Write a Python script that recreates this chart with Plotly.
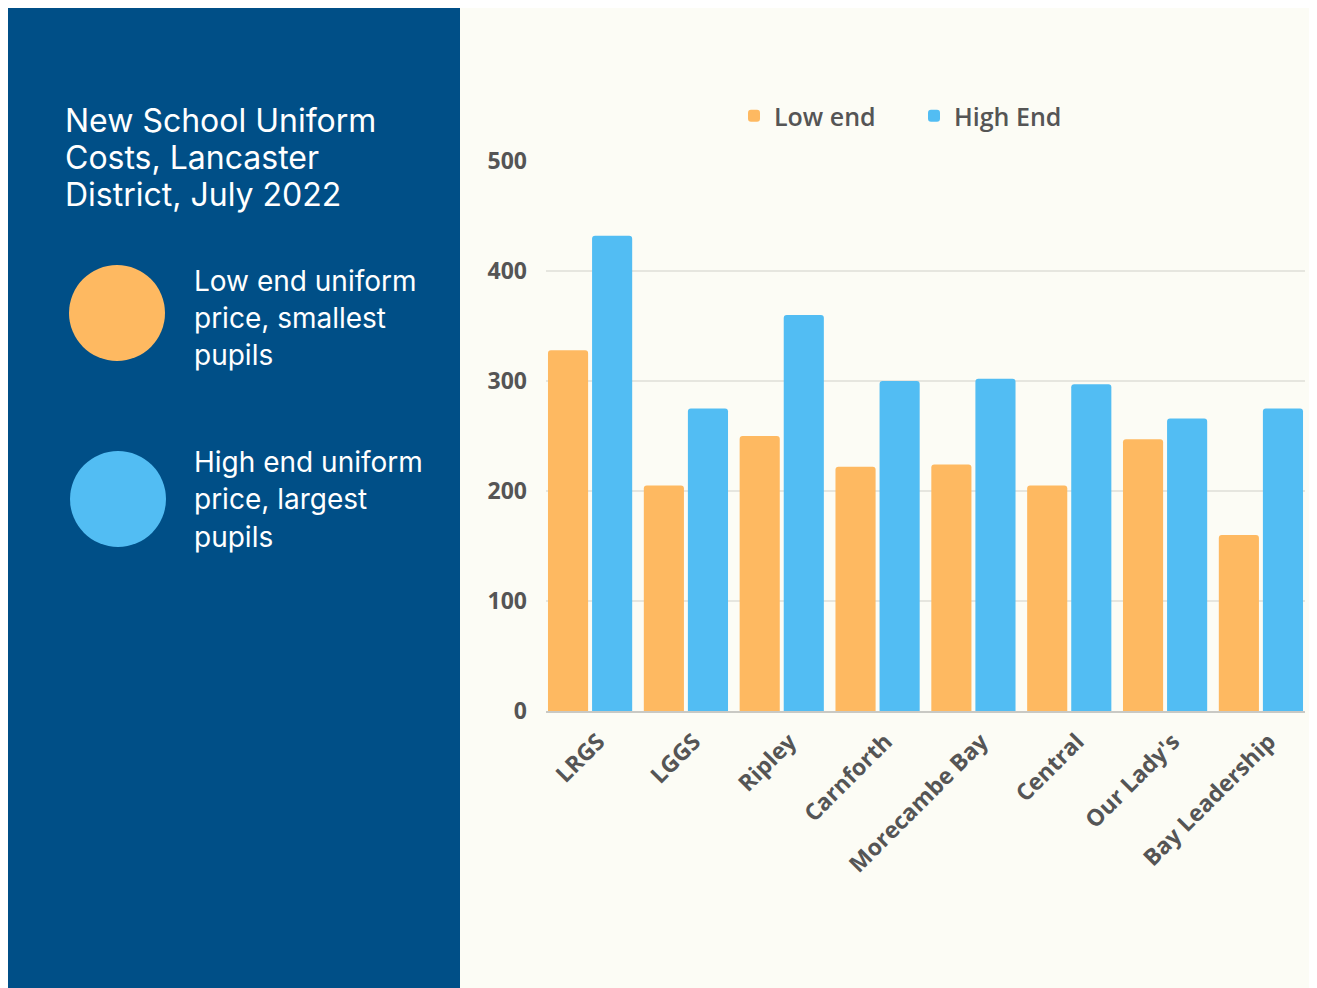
import plotly.graph_objects as go

schools = ["LRGS", "LGGS", "Ripley", "Carnforth", "Morecambe Bay", "Central", "Our Lady's", "Bay Leadership"]
low_end = [328, 205, 250, 222, 224, 205, 247, 160]
high_end = [432, 275, 360, 300, 302, 297, 266, 275]
y_ticks = [0, 100, 200, 300, 400, 500]

ORANGE = "#FEB961"
BLUE = "#52BDF3"
NAVY = "#004F87"
CREAM = "#FCFCF5"
GREY = "#555555"

# page offset of 8px (body margin); reference pixel coords are converted
OFF = 8
W, H = 1317, 988 - OFF
L, R, T, B = 546 - OFF, 1305 - OFF, 161 - OFF, 711 - OFF

def px(x):
    return (x - OFF - L) / (R - L)

def py(y):
    return (B - (y - OFF)) / (B - T)

fig = go.Figure()
fig.add_trace(go.Bar(x=schools, y=low_end, name="Low end", marker=dict(color=ORANGE, line=dict(width=0))))
fig.add_trace(go.Bar(x=schools, y=high_end, name="High End", marker=dict(color=BLUE, line=dict(width=0))))

shapes = [
    dict(type="rect", xref="paper", yref="paper", x0=px(460), x1=px(1340), y0=py(1010), y1=py(8),
         fillcolor=CREAM, line=dict(width=0), layer="below"),
    dict(type="rect", xref="paper", yref="paper", x0=px(8), x1=px(460), y0=py(1010), y1=py(8),
         fillcolor=NAVY, line=dict(width=0), layer="below"),
    dict(type="circle", xref="paper", yref="paper", x0=px(69), x1=px(165), y0=py(361), y1=py(265),
         fillcolor=ORANGE, line=dict(width=0), layer="above"),
    dict(type="circle", xref="paper", yref="paper", x0=px(70), x1=px(166), y0=py(547), y1=py(451),
         fillcolor=BLUE, line=dict(width=0), layer="above"),
]

annotations = []
TFONT = "Inter, Noto Sans, sans-serif"
for txt, y in [("New School Uniform", 121), ("Costs, Lancaster", 157.5), ("District, July 2022", 194)]:
    annotations.append(dict(text=txt, x=px(63), y=py(y), xref="paper", yref="paper", xanchor="left",
                            yanchor="middle", showarrow=False, font=dict(family=TFONT, size=32, color="white")))
for txt, y in [("Low end uniform", 281), ("price, smallest", 318), ("pupils", 355),
               ("High end uniform", 462), ("price, largest", 499), ("pupils", 537)]:
    annotations.append(dict(text=txt, x=px(192), y=py(y), xref="paper", yref="paper", xanchor="left",
                            yanchor="middle", showarrow=False, font=dict(family=TFONT, size=28, color="white")))

fig.update_layout(
    width=W, height=H,
    margin=dict(l=L, r=W - R, t=T, b=H - B, pad=0),
    paper_bgcolor="white", plot_bgcolor="rgba(0,0,0,0)",
    barmode="group", bargap=0.08, bargroupgap=0.09, barcornerradius=3,
    font=dict(family="Open Sans, sans-serif", color=GREY),
    shapes=shapes, annotations=annotations,
    legend=dict(orientation="h", x=px(734), y=py(116), xanchor="left", yanchor="middle",
                font=dict(size=25, color=GREY, weight=600), bgcolor="rgba(0,0,0,0)",
                itemwidth=30, entrywidth=135, entrywidthmode="pixels", traceorder="normal"),
    xaxis=dict(range=[-0.46, 7.46], tickangle=-45, showgrid=False, showline=True, linecolor="#c9c9c4",
               linewidth=2, ticks="", ticklabelstandoff=6, ticklabelshift=8,
               tickfont=dict(size=23, color=GREY, weight=700), fixedrange=True),
    yaxis=dict(range=[0, 500], tickvals=y_ticks, showgrid=True, gridcolor="#e6e6df", gridwidth=1.5,
               zeroline=False, showline=False, ticks="", ticklabelstandoff=18,
               tickfont=dict(size=23, color=GREY, weight=700), fixedrange=True),
)

fig.write_html("out.html", post_script="document.documentElement.style.overflow='hidden';document.body.style.overflow='hidden';")
